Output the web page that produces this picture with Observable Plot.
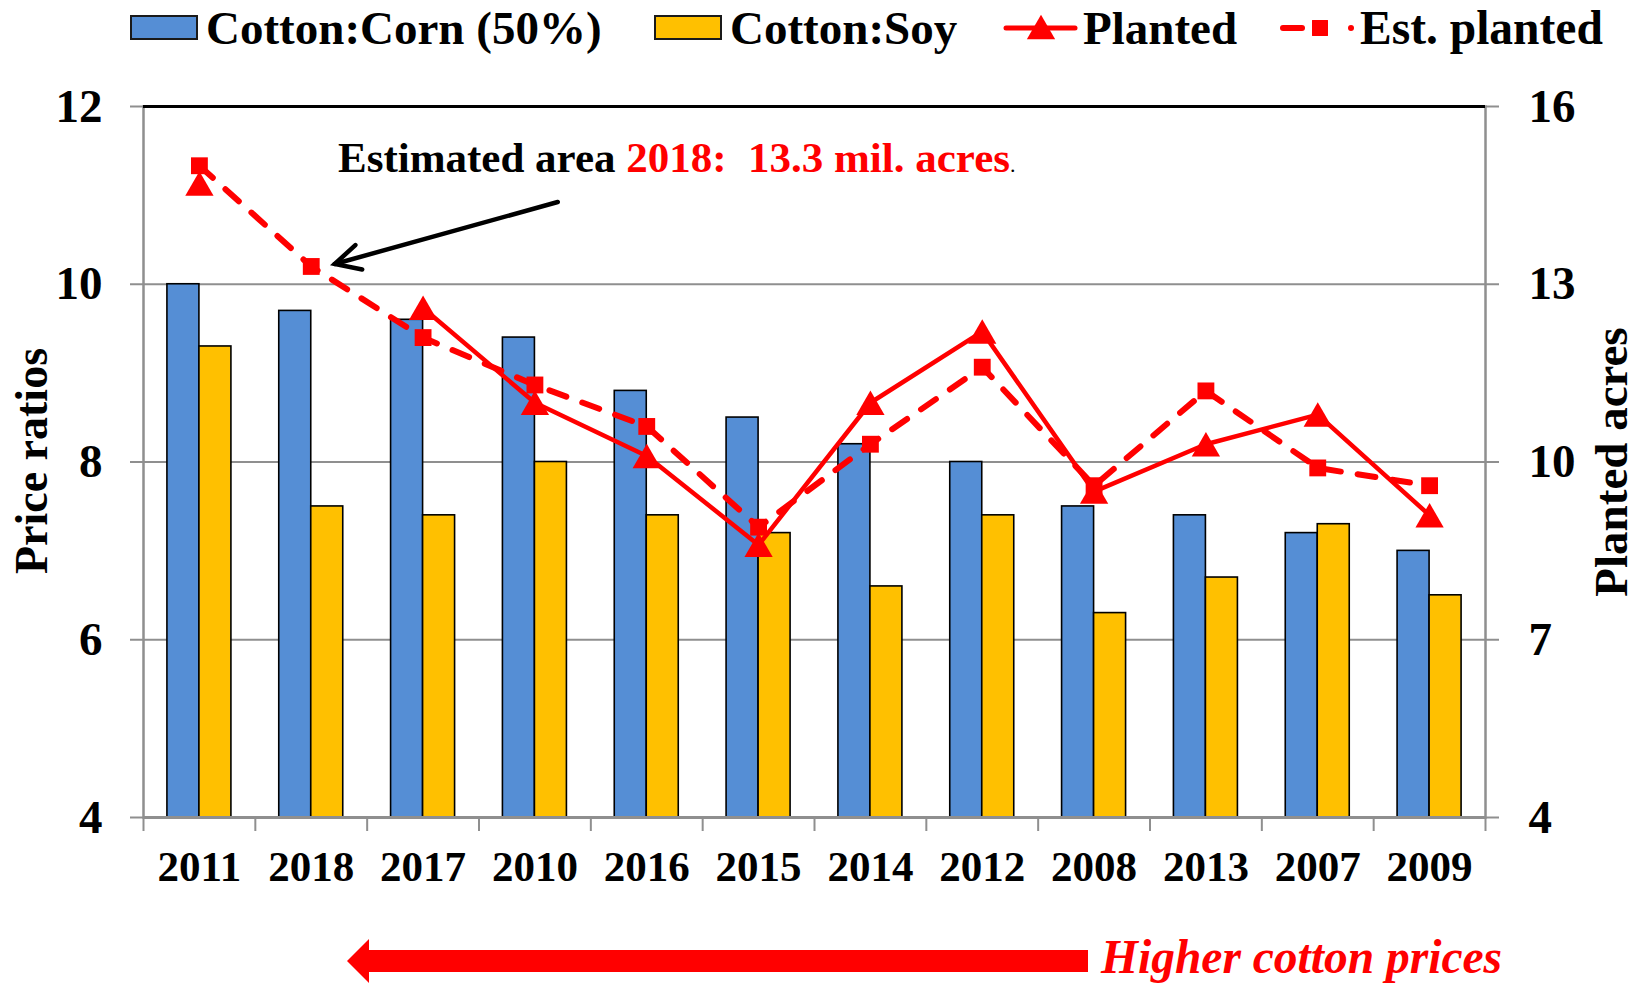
<!DOCTYPE html>
<html><head><meta charset="utf-8">
<script src="https://cdn.jsdelivr.net/npm/d3@7"></script>
<script src="https://cdn.jsdelivr.net/npm/@observablehq/plot@0.6"></script>
<style>
body{margin:0;background:#fff;}
#wrap{width:1637px;height:986px;position:relative;overflow:hidden;background:#fff;}
#wrap svg{display:block;}
</style></head><body><div id="wrap"></div>
<script>
// ---- data ----
const years = ["2011","2018","2017","2010","2016","2015","2014","2012","2008","2013","2007","2009"];
const cornRatio = [10.0, 9.7, 9.6, 9.4, 8.8, 8.5, 8.2, 8.0, 7.5, 7.4, 7.2, 7.0];
const soyRatio  = [9.3, 7.5, 7.4, 8.0, 7.4, 7.2, 6.6, 7.4, 6.3, 6.7, 7.3, 6.5];
const planted    = [14.7, null, 12.6, 11.0, 10.1, 8.6, 11.0, 12.2, 9.5, 10.3, 10.8, 9.1];
const estPlanted = [15.0, 13.3, 12.1, 11.3, 10.6, 8.9, 10.3, 11.6, 9.6, 11.2, 9.9, 9.6];
const leftTicks  = [4, 6, 8, 10, 12];
const rightTicks = [4, 7, 10, 13, 16];
const seriesNames = ["Cotton:Corn (50%)", "Cotton:Soy", "Planted", "Est. planted"];
const leftTitle = "Price ratios", rightTitle = "Planted acres";
const noteBlack = "Estimated area ", noteRed = "2018:  13.3 mil. acres", noteDot = ".";
const bottomNote = "Higher cotton prices";

// ---- helpers ----
const L = [leftTicks[0], leftTicks[leftTicks.length-1]];
const R = [rightTicks[0], rightTicks[rightTicks.length-1]];
const toLeft = v => v == null ? NaN : L[0] + (v - R[0]) * (L[1]-L[0]) / (R[1]-R[0]);
const toRight = v => R[0] + (v - L[0]) * (R[1]-R[0]) / (L[1]-L[0]);
const table = years.map((year, i) => ({year, corn: cornRatio[i], soy: soyRatio[i], planted: toLeft(planted[i]), est: toLeft(estPlanted[i])}));

const FONT = "'Liberation Serif','Times New Roman',serif";
const W = 1637, H = 926, mT = 46, mB = 169, mL = 143, mR = 152;
const bw = (W - mL - mR) / years.length;
const barW = 32;
const RED = "#ff0000", GRID = "#8f8f8f", BLUE = "#558ED5", GOLD = "#FFC000";
const tickUnits = 14 / ((H - mT - mB) / (L[1]-L[0]));

const wrap = d3.select("#wrap");

// ---- legend (above the plot) ----
const leg = wrap.append("svg").attr("width", W).attr("height", 60)
  .style("font-family", FONT).style("font-weight", "bold");
leg.append("rect").attr("x", 131).attr("y", 16).attr("width", 66).attr("height", 23).attr("fill", BLUE).attr("stroke", "#1a1a1a").attr("stroke-width", 2);
leg.append("text").attr("x", 206).attr("y", 44).attr("font-size", 47).text(seriesNames[0]);
leg.append("rect").attr("x", 655).attr("y", 16).attr("width", 66).attr("height", 23).attr("fill", GOLD).attr("stroke", "#1a1a1a").attr("stroke-width", 2);
leg.append("text").attr("x", 730).attr("y", 44).attr("font-size", 47).text(seriesNames[1]);
leg.append("line").attr("x1", 1006).attr("x2", 1075).attr("y1", 28).attr("y2", 28).attr("stroke", RED).attr("stroke-width", 5).attr("stroke-linecap", "round");
leg.append("path").attr("d", d3.symbol(d3.symbolTriangle, 10.5*10.5*Math.PI)()).attr("transform", "translate(1041,31)").attr("fill", RED);
leg.append("text").attr("x", 1083).attr("y", 44).attr("font-size", 47).text(seriesNames[2]);
leg.append("line").attr("x1", 1283).attr("x2", 1302).attr("y1", 28).attr("y2", 28).attr("stroke", RED).attr("stroke-width", 6).attr("stroke-linecap", "round");
leg.append("path").attr("d", d3.symbol(d3.symbolSquare, 9*9*Math.PI)()).attr("transform", "translate(1320,28)").attr("fill", RED);
leg.append("circle").attr("cx", 1351).attr("cy", 28).attr("r", 3).attr("fill", RED);
leg.append("text").attr("x", 1360).attr("y", 44).attr("font-size", 47.5).text(seriesNames[3]);

// ---- chart ----
const chart = Plot.plot({
  width: W, height: H, marginTop: mT, marginBottom: mB, marginLeft: mL, marginRight: mR,
  style: {fontFamily: FONT, fontWeight: "bold", color: "#000", background: "#fff", overflow: "visible"},
  x: {domain: years, padding: 0, round: false, axis: null},
  y: {domain: L, axis: null},
  marks: [
    Plot.ruleY(leftTicks.slice(1, -1), {stroke: GRID, strokeWidth: 2}),
    Plot.barY(table, {x: "year", y1: () => L[0], y2: "corn", fill: BLUE, stroke: "#000", strokeWidth: 1.6, insetLeft: bw/2 - barW, insetRight: bw/2}),
    Plot.barY(table, {x: "year", y1: () => L[0], y2: "soy", fill: GOLD, stroke: "#000", strokeWidth: 1.6, insetLeft: bw/2, insetRight: bw/2 - barW}),
    Plot.frame({stroke: GRID, strokeWidth: 2.5}),
    Plot.ruleY([L[1]], {stroke: "#000", strokeWidth: 3}),
    Plot.ruleY([L[0]], {stroke: GRID, strokeWidth: 3}),
    // left axis
    Plot.axisY({anchor: "left", ticks: leftTicks, tickSize: 13, tickFormat: () => "", stroke: GRID, strokeWidth: 2, label: null}),
    Plot.axisY({anchor: "left", ticks: leftTicks, tickSize: 0, tickPadding: 41, fontSize: 47, fill: "#000", label: null}),
    // right axis
    Plot.axisY({anchor: "right", ticks: leftTicks, tickSize: 13, tickFormat: () => "", stroke: GRID, strokeWidth: 2, label: null}),
    Plot.axisY({anchor: "right", ticks: leftTicks, tickSize: 0, tickPadding: 43, fontSize: 47, fill: "#000", tickFormat: d => String(toRight(d)), label: null}),
    // x axis: boundary ticks + labels
    Plot.ruleX(years, {x: d => d, y1: L[0], y2: L[0] - tickUnits, dx: -bw/2, stroke: GRID, strokeWidth: 2}),
    Plot.ruleX(years.slice(-1), {x: d => d, y1: L[0], y2: L[0] - tickUnits, dx: bw/2, stroke: GRID, strokeWidth: 2}),
    Plot.axisX({anchor: "bottom", ticks: years, tickSize: 0, tickPadding: 33, fontSize: 43, fill: "#000", label: null}),
    // lines
    Plot.line(table, {x: "year", y: "planted", stroke: RED, strokeWidth: 4.5}),
    Plot.dot(table, {x: "year", y: "planted", symbol: "triangle", r: 10.5, fill: RED, stroke: null, dy: 4}),
    Plot.line(table, {x: "year", y: "est", stroke: RED, strokeWidth: 6, strokeDasharray: "18,17", strokeLinecap: "round"}),
    Plot.dot(table, {x: "year", y: "est", symbol: "square", r: 9.5, fill: RED, stroke: null})
  ]
});
wrap.node().appendChild(chart);

// ---- annotations tied to scales ----
const svg = d3.select(chart);
const xs = chart.scale("x"), ys = chart.scale("y");
const cx = yr => xs.apply(yr) + xs.bandwidth / 2;
const i18 = years.indexOf("2018");
const tipX = cx("2018") + 24, tipY = ys.apply(toLeft(estPlanted[i18])) - 2;
const tailX = tipX + 223, tailY = tipY - 62;
const ang = Math.atan2(tailY - tipY, tailX - tipX);
const hl = 28, ha = 27 * Math.PI / 180;
const g = svg.append("g").attr("stroke", "#000").attr("stroke-width", 4.5).attr("fill", "none").attr("stroke-linecap", "round").attr("stroke-linejoin", "miter");
g.append("line").attr("x1", tailX).attr("y1", tailY).attr("x2", tipX).attr("y2", tipY);
g.append("path").attr("d", `M${tipX + hl*Math.cos(ang-ha)},${tipY + hl*Math.sin(ang-ha)}L${tipX},${tipY}L${tipX + hl*Math.cos(ang+ha)},${tipY + hl*Math.sin(ang+ha)}`);

const note = svg.append("text").attr("x", 338).attr("y", 112).attr("text-anchor", "start").attr("font-size", 43).attr("font-family", FONT).attr("font-weight", "bold");
note.append("tspan").attr("fill", "#000").text(noteBlack);
note.append("tspan").attr("fill", RED).text(noteRed);
note.append("tspan").attr("fill", "#000").attr("font-size", 22).attr("font-weight", "normal").text(noteDot);

// axis titles
svg.append("text").attr("transform", "translate(31,401) rotate(-90)").attr("text-anchor", "middle").attr("dominant-baseline", "central")
  .attr("font-size", 46).attr("font-family", FONT).attr("font-weight", "bold").attr("fill", "#000").text(leftTitle);
svg.append("text").attr("transform", "translate(1611,402) rotate(-90)").attr("text-anchor", "middle").attr("dominant-baseline", "central")
  .attr("font-size", 47).attr("font-family", FONT).attr("font-weight", "bold").attr("fill", "#000").text(rightTitle);

// bottom arrow + caption
svg.append("path").attr("fill", RED)
  .attr("d", "M347,901 L369,879 L369,890 L1088,890 L1088,912 L369,912 L369,923 Z");
svg.append("text").attr("x", 1101).attr("y", 913).attr("text-anchor", "start").attr("font-size", 47.5).attr("font-family", FONT)
  .attr("font-weight", "bold").attr("font-style", "italic").attr("fill", RED).text(bottomNote);
</script>
</body></html>
